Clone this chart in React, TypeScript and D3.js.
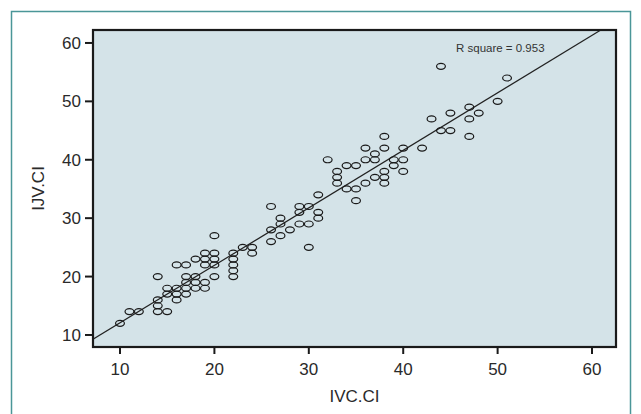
import React from "react";
import * as d3 from "d3";

// IVC.CI (x) and IJV.CI (y), one entry per subject
const ivc = [
  10, 11, 12,
  14, 14, 14, 14,
  15, 15, 15,
  16, 16, 16, 16,
  17, 17, 17, 17, 17,
  18, 18, 18, 18,
  19, 19, 19, 19, 19,
  20, 20, 20, 20, 20,
  22, 22, 22, 22, 22,
  23,
  24, 24,
  26, 26, 26,
  27, 27, 27,
  28,
  29, 29, 29,
  30, 30, 30,
  31, 31, 31,
  32,
  33, 33, 33,
  34, 34,
  35, 35, 35,
  36, 36, 36,
  37, 37, 37,
  38, 38, 38, 38, 38,
  39, 39,
  40, 40, 40,
  42,
  43,
  44, 44,
  45, 45,
  47, 47, 47,
  48,
  50,
  51,
];
const ijv = [
  12, 14, 14,
  20, 16, 15, 14,
  18, 17, 14,
  22, 18, 17, 16,
  22, 20, 19, 18, 17,
  23, 20, 19, 18,
  24, 23, 22, 19, 18,
  27, 24, 23, 22, 20,
  24, 23, 22, 21, 20,
  25,
  25, 24,
  32, 28, 26,
  30, 29, 27,
  28,
  32, 31, 29,
  32, 29, 25,
  34, 31, 30,
  40,
  38, 37, 36,
  39, 35,
  39, 35, 33,
  42, 40, 36,
  41, 40, 37,
  44, 42, 38, 37, 36,
  40, 39,
  42, 40, 38,
  42,
  47,
  56, 45,
  48, 45,
  49, 47, 44,
  48,
  50,
  54,
];

const xTicks = [10, 20, 30, 40, 50, 60];
const yTicks = [10, 20, 30, 40, 50, 60];
const rSquareLabel = "R square = 0.953";

const W = 641;
const H = 414;
const plot = { left: 93, right: 616, top: 30, bottom: 347 };
const font = "'Liberation Sans', Arial, sans-serif";

export default function App() {
  const x = d3.scaleLinear().domain([7.14, 62.54]).range([plot.left, plot.right]);
  const y = d3.scaleLinear().domain([7.94, 62.22]).range([plot.bottom, plot.top]);

  const points = ivc.map((v, i) => ({ x: v, y: ijv[i] }));

  // least-squares fit line
  const mx = d3.mean(ivc) as number;
  const my = d3.mean(ijv) as number;
  let sxy = 0;
  let sxx = 0;
  points.forEach((p) => {
    sxy += (p.x - mx) * (p.y - my);
    sxx += (p.x - mx) * (p.x - mx);
  });
  const slope = sxy / sxx;
  const intercept = my - slope * mx;
  const [x0, x1] = x.domain();
  // clip the fit to the plotting window
  const yLo = y.domain()[0];
  const yHi = y.domain()[1];
  let xa = x0;
  let xb = x1;
  if (intercept + slope * xa < yLo) xa = (yLo - intercept) / slope;
  if (intercept + slope * xb > yHi) xb = (yHi - intercept) / slope;
  const lineData: [number, number][] = [
    [xa, intercept + slope * xa],
    [xb, intercept + slope * xb],
  ];
  const linePath = d3
    .line<[number, number]>()
    .x((d) => x(d[0]))
    .y((d) => y(d[1]))(lineData);

  return (
    <svg
      width={W}
      height={H}
      style={{ position: "absolute", left: 0, top: 0, display: "block", background: "#fff" }}
    >
      <rect x={11.5} y={11.5} width={619} height={410} fill="#fff" stroke="#4a9698" strokeWidth={1.5} />
      <rect
        x={plot.left}
        y={plot.top}
        width={plot.right - plot.left}
        height={plot.bottom - plot.top}
        fill="#d4e3e8"
      />
      <clipPath id="plotClip">
        <rect x={plot.left} y={plot.top} width={plot.right - plot.left} height={plot.bottom - plot.top} />
      </clipPath>
      <g clipPath="url(#plotClip)">
        <path d={linePath || ""} stroke="#222" strokeWidth={1.2} fill="none" />
        {points.map((p, i) => (
          <ellipse
            key={i}
            cx={x(p.x)}
            cy={y(p.y)}
            rx={4.4}
            ry={3}
            fill="none"
            stroke="#1a1a1a"
            strokeWidth={1.2}
          />
        ))}
      </g>
      <rect
        x={plot.left}
        y={plot.top}
        width={plot.right - plot.left}
        height={plot.bottom - plot.top}
        fill="none"
        stroke="#1a1a1a"
        strokeWidth={2.2}
      />
      {xTicks.map((t) => (
        <g key={"x" + t}>
          <line x1={x(t)} x2={x(t)} y1={plot.bottom} y2={plot.bottom + 7} stroke="#1a1a1a" strokeWidth={2} />
          <text x={x(t)} y={plot.bottom + 28} textAnchor="middle" fontFamily={font} fontSize={17} fill="#2a2a2a">
            {t}
          </text>
        </g>
      ))}
      {yTicks.map((t) => (
        <g key={"y" + t}>
          <line x1={plot.left - 8} x2={plot.left} y1={y(t)} y2={y(t)} stroke="#1a1a1a" strokeWidth={2} />
          <text x={plot.left - 12} y={y(t) + 6} textAnchor="end" fontFamily={font} fontSize={17} fill="#2a2a2a">
            {t}
          </text>
        </g>
      ))}
      <text x={(plot.left + plot.right) / 2} y={402} textAnchor="middle" fontFamily={font} fontSize={17} fill="#2a2a2a">
        IVC.CI
      </text>
      <text
        transform={`translate(44, ${(plot.top + plot.bottom) / 2}) rotate(-90)`}
        textAnchor="middle"
        fontFamily={font}
        fontSize={17}
        fill="#2a2a2a"
      >
        IJV.CI
      </text>
      <text x={456} y={52} fontFamily={font} fontSize={11.5} fill="#333">
        {rSquareLabel}
      </text>
    </svg>
  );
}
